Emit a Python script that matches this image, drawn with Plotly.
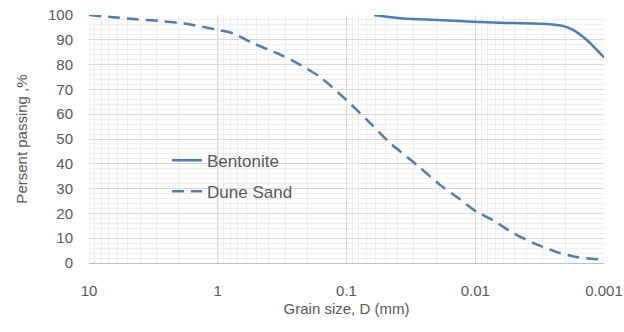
import plotly.graph_objects as go

# Grain size (mm) and percent passing
bentonite_d = [0.0611, 0.0384, 0.0198, 0.0105, 0.00646, 0.00277, 0.00209, 0.00174, 0.00136, 0.001]
bentonite_p = [100, 98.7, 98.0, 97.3, 96.9, 96.4, 95.6, 94.0, 89.9, 82.9]

dune_d = [10, 6.5, 4.55, 2.81, 1.73, 1.0, 0.76, 0.532, 0.347, 0.242, 0.16, 0.1, 0.0693, 0.0459,
          0.0283, 0.0188, 0.0139, 0.0097, 0.0073, 0.0051, 0.00356, 0.00232, 0.00162, 0.001]
dune_p = [100, 99.1, 98.4, 97.6, 96.4, 94.0, 92.6, 88.6, 84.6, 80.6, 75.0, 65.7, 57.7, 48.4,
          39.5, 31.5, 26.6, 20.6, 17.3, 12.1, 8.1, 4.4, 2.4, 1.3]

x_tickvals = [10, 1, 0.1, 0.01, 0.001]
x_ticktext = ["10", "1", "0.1", "0.01", "0.001"]
minor_vals = [m * 10.0 ** e for e in range(-3, 1) for m in range(2, 10)]
y_axis_cross = 1  # vertical axis crosses the grain-size axis at 1 mm

blue = "#4a7ebb"
font_fam = "Liberation Sans, Arial, sans-serif"
txt = "#595959"

fig = go.Figure()
fig.add_trace(go.Scatter(x=bentonite_d, y=bentonite_p, mode="lines", name="Bentonite",
                         legendgroup="a",
                         line=dict(color=blue, width=2.5, shape="spline", smoothing=0.6)))
fig.add_trace(go.Scatter(x=dune_d, y=dune_p, mode="lines", name="Dune Sand",
                         legendgroup="b",
                         line=dict(color=blue, width=2.5, dash="12px,7px", shape="spline", smoothing=0.6)))

fig.add_vline(x=y_axis_cross, line=dict(color="#bfbfbf", width=1), layer="below")

fig.update_layout(
    width=624, height=332,
    margin=dict(l=89, r=20, t=15, b=69),
    plot_bgcolor="white", paper_bgcolor="white",
    font=dict(family=font_fam, color=txt, size=15),
    legend=dict(x=0.1515, y=0.485, xanchor="left", yanchor="top", bgcolor="rgba(0,0,0,0)",
                font=dict(size=17, color=txt), traceorder="grouped", tracegroupgap=6),
    showlegend=True,
)
fig.update_xaxes(
    type="log", range=[1, -3], automargin=False,
    tickvals=x_tickvals, ticktext=x_ticktext, ticks="",
    showgrid=True, gridcolor="#d9d9d9", gridwidth=1,
    minor=dict(tickvals=minor_vals, showgrid=True, gridcolor="#ececec", gridwidth=1, ticks=""),
    showline=True, linecolor="#bfbfbf", linewidth=1,
    zeroline=False, ticklabelstandoff=14,
    title=dict(text="Grain size, D (mm)", font=dict(size=15, color=txt), standoff=5),
    tickfont=dict(size=15, color=txt),
)
fig.update_yaxes(
    range=[0, 100], dtick=10, ticks="", automargin=False,
    showgrid=True, gridcolor="#d9d9d9", gridwidth=1,
    minor=dict(dtick=2, showgrid=True, gridcolor="#f0f0f0", gridwidth=1, ticks=""),
    zeroline=False, showline=False, ticklabelstandoff=15,
    title=dict(text="Persent passing ,%", font=dict(size=15, color=txt), standoff=16),
    tickfont=dict(size=15, color=txt),
)

fig.write_html("out.html")
